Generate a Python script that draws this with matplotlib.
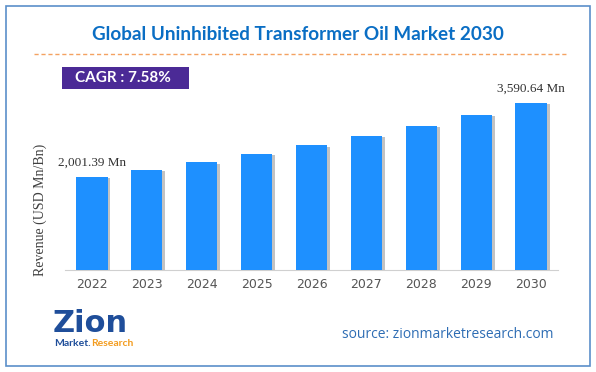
#!/usr/bin/env python3

import matplotlib.pyplot as plt
import matplotlib.patheffects as pe
from matplotlib.patches import Rectangle

# data
years = ['2022', '2023', '2024', '2025', '2026', '2027', '2028', '2029', '2030']
revenue = [2001.39, 2153.0, 2316.0, 2492.0, 2681.0, 2884.0, 3103.0, 3338.0, 3590.64]
first_label = '2,001.39 Mn'
last_label = '3,590.64 Mn'
cagr_text = 'CAGR : 7.58%'

fig = plt.figure(figsize=(5.96, 3.72), dpi=100)
fig.patch.set_facecolor('white')

# outer border
fig.add_artist(Rectangle((6 / 596, 6 / 372), 584 / 596, 360 / 372, transform=fig.transFigure,
                         fill=False, edgecolor='#5B8FC9', linewidth=1.2))

# title + dashed line
fig.text(0.5, 1 - 35 / 372, 'Global Uninhibited Transformer Oil Market 2030', ha='center', va='center',
         fontsize=13.6, fontweight='bold', color='#0A6EC4', family='Lato')
fig.add_artist(plt.Line2D([34 / 596, 566 / 596], [1 - 54 / 372, 1 - 54 / 372], transform=fig.transFigure,
                          color='#F4A261', linestyle=(0, (3, 2)), linewidth=1))

# CAGR box
fig.add_artist(Rectangle((62 / 596, 1 - 89 / 372), 127 / 596, 22 / 372, transform=fig.transFigure,
                         facecolor='#4B2A96', edgecolor='none'))
fig.text(75 / 596, 1 - 78 / 372, cagr_text, ha='left', va='center', fontsize=11,
         fontweight='bold', color='white', family='Lato')

ax = fig.add_axes([65 / 596, 1 - 270 / 372, 493 / 596, 180 / 372])
x = range(len(years))
bars = ax.bar(x, revenue, width=0.57, color='#1E90FF', zorder=3)
for b in bars:
    b.set_path_effects([pe.SimplePatchShadow(offset=(2, -1), shadow_rgbFace='#9a9a9a', alpha=0.6),
                        pe.Normal()])

ax.set_xlim(-0.49, len(years) - 0.51)
ax.set_ylim(0, 3870)
ax.set_xticks(list(x))
ax.set_xticklabels(years, fontsize=9, color='#555555', family='DejaVu Sans')
ax.tick_params(axis='x', length=0, pad=6)
ax.set_yticks([])
for s in ['top', 'right', 'left']:
    ax.spines[s].set_visible(False)
ax.spines['bottom'].set_color('#d0d0d0')

ax.annotate(first_label, (0, revenue[0]), xytext=(0, 6), textcoords='offset points',
            ha='center', va='bottom', fontsize=9.5, family='Liberation Serif', color='#333333')
ax.annotate(last_label, (len(years) - 1, revenue[-1]), xytext=(0, 6), textcoords='offset points',
            ha='center', va='bottom', fontsize=9.5, family='Liberation Serif', color='#333333')

fig.text(40 / 596, 1 - 210 / 372, 'Revenue (USD Mn/Bn)', rotation=90, ha='center', va='center',
         fontsize=10, family='Liberation Serif', color='#404040')

# logo (text only)
fig.text(53 / 596, 1 - 324 / 372, 'Zion', ha='left', va='center', fontsize=22,
         fontweight='heavy', color='#1F4E9A', family='DejaVu Sans')
mk = fig.text(54 / 596, 1 - 343 / 372, 'Market.', ha='left', va='center', fontsize=7.5,
              fontweight='bold', color='#1F4E9A', family='Lato')
fig.canvas.draw()
bb = mk.get_window_extent()
fig.text(bb.x1 / 596, 1 - 343 / 372, 'Research', ha='left', va='center', fontsize=7.5,
         fontweight='bold', color='#F39C1F', family='Lato')

fig.text(554 / 596, 1 - 335 / 372, 'source: zionmarketresearch.com', ha='right', va='center',
         fontsize=10, color='#2E6DB4', family='Open Sans')

fig.savefig('out.png', dpi=100)
